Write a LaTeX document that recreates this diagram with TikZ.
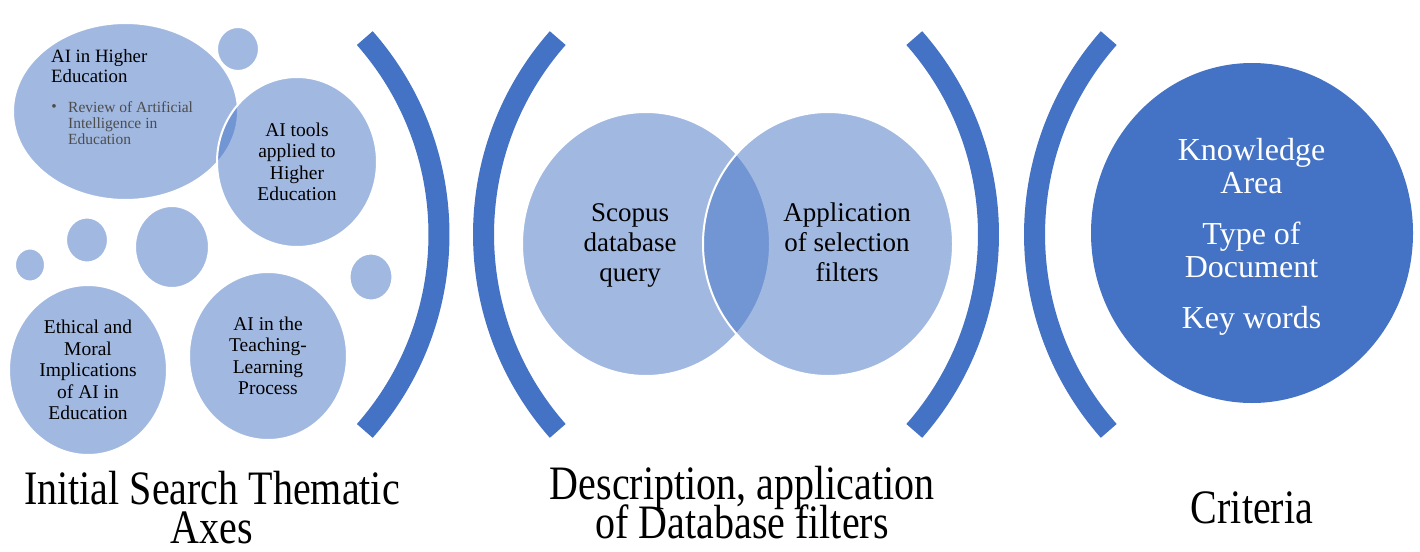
\documentclass[tikz,border=0pt]{standalone}
\usepackage{fontspec}
\usepackage{graphicx}
\setmainfont{Liberation Serif}
\usetikzlibrary{shapes.geometric}
\definecolor{aiblue}{HTML}{4472C4}

\begin{document}
\begin{tikzpicture}[x=1pt, y=-1pt,
    every node/.append style={inner sep=0pt},
    bub/.style={ellipse, draw=white, line width=2pt, fill=aiblue, fill opacity=0.5, text opacity=1},
    arcb/.style={draw=aiblue, line width=21pt},
    small/.style={align=center, font=\fontsize{19.5}{21.5}\selectfont},
    mid/.style={align=center, font=\fontsize{27}{30}\selectfont},
    big/.style={align=center, font=\fontsize{32}{33}\selectfont, text=white},
    capt/.style={anchor=base, font=\fontsize{40}{40}\selectfont}]
  \useasboundingbox (0,0) rectangle (1420,551);

  % thematic axes
  \node [bub, minimum width=225pt, minimum height=177pt] (H) at (125.5,111.5) {};
  \node [bub, minimum width=42pt, minimum height=44pt] (s1) at (238,49) {};
  \node [bub, small, minimum width=160pt, minimum height=170pt] (T) at (297,162) {AI tools\\applied to\\Higher\\Education};
  \node [bub, minimum width=42pt, minimum height=45pt] (s2) at (87,240) {};
  \node [bub, minimum width=30pt, minimum height=33pt] (s3) at (30,265) {};
  \node [bub, minimum width=74pt, minimum height=82pt] (s4) at (172,247) {};
  \node [bub, minimum width=43pt, minimum height=47pt] (s5) at (371,277) {};
  \node [bub, small, minimum width=158pt, minimum height=170pt] (E) at (88,370) {Ethical and\\Moral\\Implications\\of AI in\\Education};
  \node [bub, small, minimum width=158pt, minimum height=168pt] (L) at (268,356) {AI in the\\Teaching-\\Learning\\Process};

  \node [anchor=west, align=left, font=\fontsize{18.8}{20}\selectfont] (Ht) at (51,66) {AI in Higher\\Education};
  \node [font=\fontsize{15.5}{16}\selectfont, text=black!70] (Hd) at (54,108) {\textbullet};
  \node [anchor=west, align=left, font=\fontsize{15.5}{16}\selectfont, text=black!70] (Hb) at (68,122.7) {Review of Artificial\\Intelligence in\\Education};

  % database
  \node [bub, minimum width=248pt, minimum height=264pt] (Q) at (646,244) {};
  \node [bub, minimum width=250pt, minimum height=264pt] (F) at (828,244) {};
  \node [mid] (Qt) at (630,245.5) {Scopus\\database\\query};
  \node [mid] (Ft) at (847,242.5) {Application\\of selection\\filters};

  % criteria
  \node [ellipse, fill=aiblue, minimum width=322pt, minimum height=340pt] (C) at (1252,233) {};
  \node [big] (Ct) at (1251.5,237) {Knowledge\\Area\\[18pt]Type of\\Document\\[18pt]Key words};

  % brackets
  \draw [arcb] ([shift={(-41.4:297)}]142,234.5) arc [start angle=-41.4, end angle=41.4, radius=297];
  \draw [arcb] ([shift={(138.6:297)}]780.5,234.5) arc [start angle=138.6, end angle=221.4, radius=297];
  \draw [arcb] ([shift={(-41.4:297)}]691.5,234.5) arc [start angle=-41.4, end angle=41.4, radius=297];
  \draw [arcb] ([shift={(138.6:297)}]1331.5,234.5) arc [start angle=138.6, end angle=221.4, radius=297];

  % captions
  \node [capt] (c1a) at (212,504) {\scalebox{1}[1.2]{Initial Search Thematic}};
  \node [capt] (c1b) at (212,543) {\scalebox{1}[1.2]{Axes}};
  \node [capt] (c2a) at (742,499) {\scalebox{1}[1.2]{Description, application}};
  \node [capt] (c2b) at (742,538) {\scalebox{1}[1.2]{of Database filters}};
  \node [capt] (c3) at (1252,523) {\scalebox{1}[1.2]{Criteria}};
\end{tikzpicture}
\end{document}
